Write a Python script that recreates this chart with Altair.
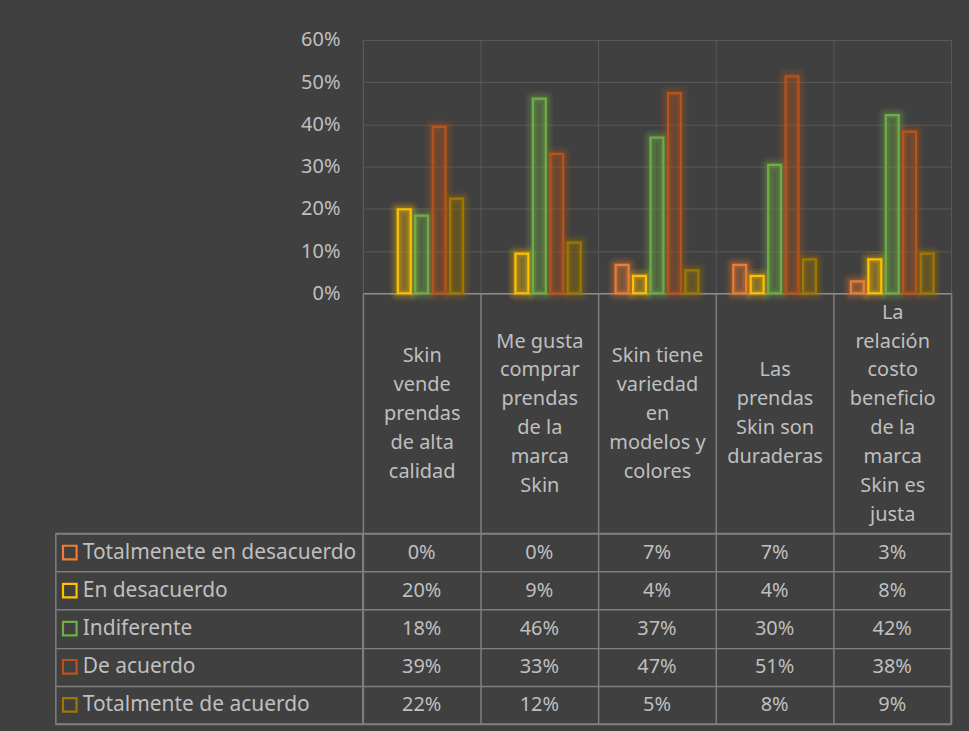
import altair as alt
import pandas as pd

FONT = "Noto Sans"
BG = "#404040"
TXT = "#BFBFBF"
GRID = "#595959"
TLINE = "#7F7F7F"

categories = [
    "Skin\nvende\nprendas\nde alta\ncalidad",
    "Me gusta\ncomprar\nprendas\nde la\nmarca\nSkin",
    "Skin tiene\nvariedad\nen\nmodelos y\ncolores",
    "Las\nprendas\nSkin son\nduraderas",
    "La\nrelación\ncosto\nbeneficio\nde la\nmarca\nSkin es\njusta",
]
series = [
    "Totalmenete en desacuerdo",
    "En desacuerdo",
    "Indiferente",
    "De acuerdo",
    "Totalmente de acuerdo",
]
colors = ["#ED7D31", "#FFC000", "#70AD47", "#B8541A", "#A07800"]

v_tot_desacuerdo = [0.0, 0.0, 0.067, 0.067, 0.028]
v_desacuerdo = [0.199, 0.094, 0.041, 0.041, 0.080]
v_indiferente = [0.184, 0.461, 0.369, 0.304, 0.422]
v_acuerdo = [0.394, 0.330, 0.474, 0.514, 0.383]
v_tot_acuerdo = [0.224, 0.120, 0.054, 0.080, 0.094]

all_values = [v_tot_desacuerdo, v_desacuerdo, v_indiferente, v_acuerdo, v_tot_acuerdo]
rows = []
for s, vals in zip(series, all_values):
    for c, v in zip(categories, vals):
        rows.append({"cat": c, "series": s, "value": v})
df = pd.DataFrame(rows)
df_leg = pd.DataFrame({"series": series})

col_scale = alt.Scale(domain=series, range=colors)

# ---------- bar chart ----------
xenc = alt.X("cat:N", sort=categories, scale=alt.Scale(paddingInner=0, paddingOuter=0),
             axis=alt.Axis(title=None, labels=False, ticks=False, domain=True,
                           domainColor="#8C8C8C", domainWidth=1.5, grid=True,
                           gridColor=GRID, gridWidth=1, tickBand="extent"))
yenc = alt.Y("value:Q", scale=alt.Scale(domain=[0, 0.6], nice=False),
             axis=alt.Axis(title=None, values=[0, 0.1, 0.2, 0.3, 0.4, 0.5, 0.6],
                           format=".0%", labelFontSize=20, labelColor=TXT, labelFont=FONT,
                           labelPadding=23, ticks=False, domain=False,
                           gridColor=GRID, gridWidth=1))
xoff = alt.XOffset("series:N", sort=series,
                   scale=alt.Scale(domain=series, paddingInner=0.257, paddingOuter=1))

base = alt.Chart(df).transform_filter("datum.value > 0").encode(
    x=xenc, y=yenc, xOffset=xoff,
    fill=alt.Fill("series:N", scale=col_scale, legend=None),
    stroke=alt.Stroke("series:N", scale=col_scale, legend=None),
)
glow1 = base.mark_bar(fillOpacity=0, strokeWidth=16, strokeOpacity=0.08, strokeJoin="round")
glow2 = base.mark_bar(fillOpacity=0, strokeWidth=11, strokeOpacity=0.12, strokeJoin="round")
glow3 = base.mark_bar(fillOpacity=0, strokeWidth=6, strokeOpacity=0.18, strokeJoin="round")
main = base.mark_bar(fillOpacity=0.26, strokeWidth=2.2)

bars = alt.layer(glow1, glow2, glow3, main).properties(
    width=590, height=254, view=alt.ViewBackground(stroke=GRID, strokeWidth=1)
)

spacer = alt.Chart(pd.DataFrame({"a": [0]})).mark_text(text=" ").encode(
    x=alt.value(0), y=alt.value(0)
).properties(width=308, height=254, view=alt.ViewBackground(stroke="transparent"))

# ---------- legend column ----------
leg_y = alt.Y("series:N", sort=series, scale=alt.Scale(paddingInner=0, paddingOuter=0),
              axis=alt.Axis(title=None, labels=False, ticks=False, domain=False, grid=True,
                            gridColor=TLINE, gridWidth=1.5, tickBand="extent",
                            minExtent=0, maxExtent=0))
leg_base = alt.Chart(df_leg).encode(y=leg_y)
sq = leg_base.mark_point(shape="square", filled=False, size=185, strokeWidth=2.2, opacity=1).encode(
    x=alt.value(14), color=alt.Color("series:N", scale=col_scale, legend=None)
)
lt = leg_base.mark_text(align="left", baseline="middle", fontSize=21, color=TXT, font=FONT).encode(
    x=alt.value(27), text="series:N"
)
legend = alt.layer(sq, lt).properties(
    width=308, height=191, view=alt.ViewBackground(stroke=TLINE, strokeWidth=1.5)
)

# ---------- data table ----------
HEADER = 241
LINE_H = 29
# centre each multi-line header label vertically: padding depends on its line count
pad_conditions = [
    {"test": f"length(split(datum.value, '\\n')) == {n}",
     "value": -HEADER / 2 + (n - 1) * LINE_H / 2}
    for n in range(1, 9)
]
label_padding = {"condition": pad_conditions, "value": -HEADER / 2}

body = alt.Chart(df).mark_text(fontSize=20, color=TXT, font=FONT, baseline="middle").encode(
    x=alt.X("cat:N", sort=categories, scale=alt.Scale(paddingInner=0, paddingOuter=0),
            axis=alt.Axis(orient="top", title=None, tickBand="extent", ticks=True, tickSize=HEADER,
                          tickColor=TLINE, tickWidth=1.5, labelPadding=label_padding,
                          labelBaseline="middle", labelAlign="center", labelAngle=0,
                          labelFontSize=20, labelLineHeight=LINE_H, labelColor=TXT, labelFont=FONT,
                          labelExpr="split(datum.label, '\\n')", labelOverlap=False,
                          labelLimit=300, domain=False, grid=True, gridColor=TLINE,
                          gridWidth=1.5)),
    y=alt.Y("series:N", sort=series, scale=alt.Scale(paddingInner=0, paddingOuter=0),
            axis=alt.Axis(title=None, labels=False, ticks=False, domain=False, grid=True,
                          gridColor=TLINE, gridWidth=1.5, tickBand="extent", minExtent=0)),
    text=alt.Text("value:Q", format=".0%"),
).properties(width=590, height=191, view=alt.ViewBackground(stroke=TLINE, strokeWidth=1.5))

chart = alt.ConcatChart(
    concat=[spacer, bars, legend, body], columns=2,
    spacing={"row": HEADER, "column": 0}, bounds="flush",
).properties(
    padding={"left": 55, "top": 28, "right": 16, "bottom": 7},
    background=BG,
).configure(font=FONT)

chart.save("out.html", embed_options={"renderer": "svg", "actions": False})
